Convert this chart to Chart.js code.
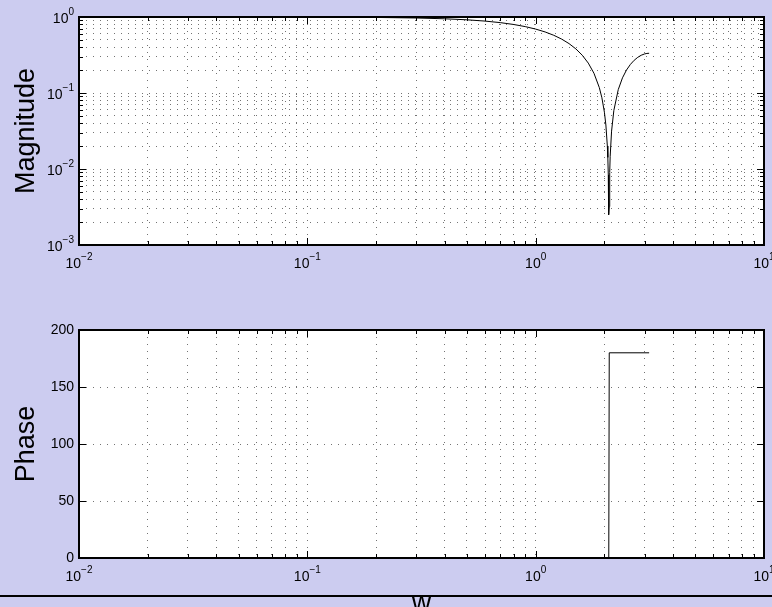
<!DOCTYPE html>
<html>
<head>
<meta charset="utf-8">
<script src="https://cdn.jsdelivr.net/npm/chart.js@4.4.0/dist/chart.umd.min.js"></script>
<style>
    body { margin: 0; background: rgb(204, 204, 240); }
    #wrap { position: relative; width: 772px; height: 607px; overflow: hidden; }
    canvas { position: absolute; left: 0; top: 0; }
</style>
</head>
<body>
<div id="wrap">
    <canvas id="magChart" width="772" height="607"></canvas>
    <canvas id="phaseChart" width="772" height="607"></canvas>
</div>
<script>
//  data
const magW = [0.01, 0.02, 0.05, 0.1, 0.2, 0.3, 0.4, 0.5, 0.6, 0.7, 0.8, 0.9, 1.0, 1.1, 1.2, 1.3, 1.4, 1.5, 1.6, 1.7, 1.8, 1.9, 1.95, 2.0, 2.03, 2.06, 2.07, 2.08, 2.085, 2.09, 2.1, 2.11, 2.12, 2.15, 2.2, 2.3, 2.4, 2.5, 2.6, 2.7, 2.8, 2.9, 3.0, 3.07, 3.14];
const magnitude = [1.0, 0.9999, 0.9992, 0.9967, 0.9867, 0.9702, 0.9474, 0.9184, 0.8836, 0.8432, 0.7978, 0.7477, 0.6935, 0.6357, 0.5749, 0.5117, 0.4466, 0.3805, 0.3139, 0.2474, 0.1819, 0.1178, 0.0865, 0.0559, 0.0379, 0.0201, 0.0142, 0.0084, 0.0054, 0.0025, 0.0032, 0.0090, 0.0147, 0.0315, 0.0590, 0.1109, 0.1583, 0.2008, 0.2379, 0.2694, 0.2948, 0.3140, 0.3267, 0.3316, 0.3333];

const phaseW = [0.01, 2.09, 2.1, 3.14];
const phase = [0, 0, 180, 180];

// tick labels
const xDecades = [-2, -1, 0, 1];
const magDecades = [-3, -2, -1, 0];
const phaseTicks = [0, 50, 100, 150, 200];
const mantissas = [1, 2, 3, 4, 5, 6, 7, 8, 9];

const magTitle = 'Magnitude';
const phaseTitle = 'Phase';
const xTitle = 'w';

const FONT = '"Liberation Sans", Arial, Helvetica, sans-serif';


// log ticks at 1..9 x 10^n
function logTicks(decades) {
    let ticks = [];
    decades.forEach((d, i) => {
        mantissas.forEach(m => {
            if (i == decades.length - 1 && m > 1) return;
            ticks.push({ value: m * Math.pow(10, d), major: m == 1 });
        });
    });
    return ticks;
}

function drawPow(ctx, x, y, exp, align) {
    ctx.font = '14px ' + FONT;
    const w1 = ctx.measureText('10').width;
    const e = exp < 0 ? '\u2212' + (-exp) : String(exp);
    ctx.font = '10px ' + FONT;
    const w2 = ctx.measureText(e).width;
    const left = align == 'center' ? x - (w1 + w2) / 2 : x - w1 - w2;
    ctx.textAlign = 'left';
    ctx.textBaseline = 'alphabetic';
    ctx.font = '14px ' + FONT;
    ctx.fillText('10', left, y);
    ctx.font = '10px ' + FONT;
    ctx.fillText(e, left + w1, y - 8);
}

// white box, black frame with inward tick marks, labels
const matlabBox = {
    id: 'matlabBox',
    beforeDraw(chart) {
        const a = chart.chartArea;
        const ctx = chart.ctx;
        ctx.save();
        ctx.fillStyle = '#fff';
        ctx.fillRect(a.left, a.top, a.right - a.left, a.bottom - a.top);
        ctx.restore();
    },
    afterDraw(chart, args, opts) {
        const a = chart.chartArea;
        const ctx = chart.ctx;
        const xs = chart.scales.x;
        const ys = chart.scales.y;
        ctx.save();
        ctx.strokeStyle = '#000';
        ctx.lineWidth = 1;
        ctx.beginPath();
        xs.ticks.forEach(t => {
            const px = Math.round(xs.getPixelForValue(t.value)) + 0.5;
            const len = t.major ? 7 : 4;
            ctx.moveTo(px, a.bottom); ctx.lineTo(px, a.bottom - len);
            ctx.moveTo(px, a.top); ctx.lineTo(px, a.top + len);
        });
        ys.ticks.forEach(t => {
            const py = Math.round(ys.getPixelForValue(t.value)) + 0.5;
            const len = (opts.logY && !t.major) ? 4 : 7;
            ctx.moveTo(a.left, py); ctx.lineTo(a.left + len, py);
            ctx.moveTo(a.right, py); ctx.lineTo(a.right - len, py);
        });
        ctx.stroke();

        ctx.lineWidth = 2;
        ctx.strokeRect(a.left, a.top, a.right - a.left, a.bottom - a.top);

        ctx.fillStyle = '#000';
        xDecades.forEach(d => {
            drawPow(ctx, xs.getPixelForValue(Math.pow(10, d)), a.bottom + 23, d, 'center');
        });
        if (opts.logY) {
            magDecades.forEach(d => {
                drawPow(ctx, a.left - 5, ys.getPixelForValue(Math.pow(10, d)) + 6, d, 'right');
            });
        } else {
            ctx.font = '14px ' + FONT;
            ctx.textAlign = 'right';
            ctx.textBaseline = 'middle';
            phaseTicks.forEach(v => {
                ctx.fillText(String(v), a.left - 5, ys.getPixelForValue(v));
            });
        }

        ctx.font = '27px ' + FONT;
        ctx.textAlign = 'center';
        ctx.textBaseline = 'alphabetic';
        ctx.translate(34, (a.top + a.bottom) / 2);
        ctx.rotate(-Math.PI / 2);
        ctx.fillText(opts.title, 0, 0);
        ctx.setTransform(1, 0, 0, 1, 0, 0);

        if (opts.xTitle) {
            ctx.fillText(xTitle, (a.left + a.right) / 2, 611);
            ctx.lineWidth = 2;
            ctx.beginPath();
            ctx.moveTo(0, 596); ctx.lineTo(772, 596);
            ctx.stroke();
        }
        ctx.restore();
    }
};

function axisCommon() {
    return {
        ticks: { display: false },
        grid: { color: 'rgba(0,0,0,0.55)', lineWidth: 1, drawTicks: false },
        border: { display: false, dash: [1, 6] }
    };
}

function makeChart(id, points, yScale, padding, boxOpts) {
    const xAxis = Object.assign(axisCommon(), {
        type: 'logarithmic', min: 0.01, max: 10,
        afterBuildTicks: scale => { scale.ticks = logTicks(xDecades); }
    });
    return new Chart(document.getElementById(id), {
        type: 'scatter',
        data: {
            datasets: [{
                data: points,
                showLine: true,
                borderColor: '#000',
                borderWidth: 1,
                pointRadius: 0,
                fill: false,
            }]
        },
        options: {
            responsive: false,
            animation: false,
            events: [],
            layout: { padding: padding },
            plugins: { legend: { display: false }, tooltip: { enabled: false }, matlabBox: boxOpts },
            scales: { x: xAxis, y: Object.assign(axisCommon(), yScale) }
        },
        plugins: [matlabBox]
    });
}

makeChart('magChart',
    magW.map((w, i) => ({ x: w, y: magnitude[i] })),
    {
        type: 'logarithmic', min: 0.001, max: 1,
        afterBuildTicks: scale => { scale.ticks = logTicks(magDecades); }
    },
    { left: 79, top: 17, right: 8, bottom: 362 },
    { logY: true, title: magTitle }
);

makeChart('phaseChart',
    phaseW.map((w, i) => ({ x: w, y: phase[i] })),
    {
        type: 'linear', min: 0, max: 200,
        afterBuildTicks: scale => { scale.ticks = phaseTicks.map(v => ({ value: v })); }
    },
    { left: 79, top: 330, right: 8, bottom: 49 },
    { logY: false, title: phaseTitle, xTitle: true }
);
</script>
</body>
</html>
